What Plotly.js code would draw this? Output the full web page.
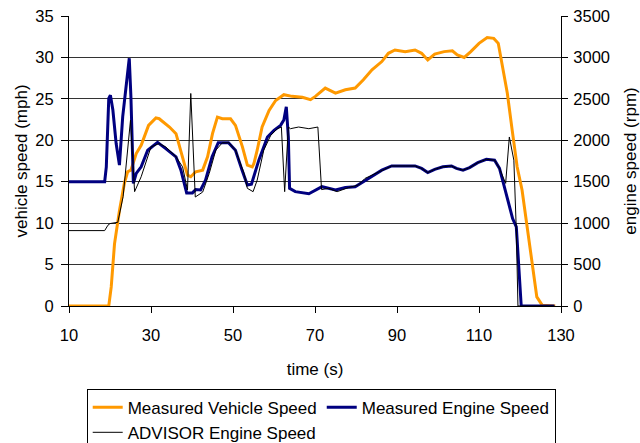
<!DOCTYPE html>
<html>
<head>
<meta charset="utf-8">
<script src="https://cdn.plot.ly/plotly-3.0.1.min.js"></script>
<style>
html,body{margin:0;padding:0;background:#fff;}
#chart{width:640px;height:443px;}
</style>
</head>
<body>
<div id="chart"></div>
<script>
// Measured vehicle speed (mph) vs time (s)
const vehTime = [10,19.7,20.3,21.1,22.3,23.5,24.3,25.1,26.4,27.6,29.4,31.2,32,34.5,36.1,37.7,38.9,39.7,40.9,42.6,43.8,45,46.2,47.4,49.4,50.6,52.3,53.5,54.7,55.1,55.9,57.1,58.8,60.4,62.4,64.4,66.9,68.9,70.1,72.5,75,77.4,79.8,81.8,83.9,86.3,87.9,89.5,92,94.4,96,97.5,99.2,101.5,103.5,104.7,106.4,108,110,112,113.6,114.7,115.6,116.9,118.1,119.3,120.5,121.7,122.9,124.1,125.4,128.6];
const vehSpeed = [0,0,2.3,7.5,11.5,14.8,16.2,16.4,18.4,19.4,21.8,22.7,22.6,21.6,20.8,18,15.8,15.6,16.2,16.4,18,20.8,22.8,22.6,22.6,21.8,19.2,17,16.8,17.2,18.8,21.6,23.6,24.8,25.5,25.3,25.2,24.9,25.3,26.3,25.7,26.1,26.3,27.3,28.5,29.5,30.5,30.9,30.7,30.9,30.5,29.7,30.4,30.7,30.8,30.3,30,30.7,31.7,32.4,32.3,31.7,29.3,25.7,21.2,16.8,14,9.5,5.1,1.1,0.1,0];

// Measured engine speed (rpm)
const engTime = [10,18.7,19.1,19.7,20.1,20.7,21.5,22.3,23.1,23.9,24.7,25.1,25.7,26.4,27.6,29.2,31.6,33.6,36.1,37.3,38.7,40.1,40.9,42.1,43.3,44.9,46.4,48.9,50.6,52.2,53.5,54.5,56.3,58.4,60,61.6,62.4,63,63.5,63.8,65.2,68.5,70.1,71.7,75,77.4,79.8,81.8,83.9,86.3,88.7,92,94.4,96,97.5,99.2,101.2,103.3,104.5,106.1,107.7,109.7,111.8,113.8,115,116.6,118.2,119.1,119.6,120.3,128.4];
const engSpeed = [1500,1500,1680,2505,2545,2365,1960,1700,2285,2645,2990,2525,1480,1600,1680,1880,1975,1900,1800,1640,1365,1365,1405,1400,1520,1800,1970,1970,1880,1640,1460,1470,1760,2040,2120,2180,2245,2405,2040,1420,1380,1355,1400,1440,1400,1430,1440,1500,1570,1640,1690,1690,1690,1660,1610,1650,1680,1690,1660,1640,1670,1730,1770,1760,1660,1360,1055,955,550,0,0];

// ADVISOR engine speed (rpm)
const advTime = [10,18.7,19.5,20,21.9,23.2,25.0,26,27.6,30,32,33.6,36.1,37.7,38.9,39.7,40.8,42.6,44.2,45.8,47.4,49,50.6,52.7,53.5,54.9,55.9,57.5,59.2,60.8,61.8,62.6,63.5,64,66,68.5,70.7,71.6,73.3,75.4,78.2,80.6,82.2,83.9,86.3,88.7,92,94.4,96,97.5,99.2,101.2,103.3,104.5,106.1,107.7,109.7,111.8,113.8,115,116.5,117.4,118.5,119.1,119.5,128.4];
const advSpeed = [910,910,975,995,1010,1320,2245,1380,1560,1920,1960,1920,1800,1680,1400,2565,1315,1375,1600,1880,1970,1970,1880,1600,1420,1380,1520,1880,2060,2140,2160,1380,2160,2140,2160,2140,2160,1405,1420,1380,1430,1460,1540,1580,1640,1690,1690,1690,1660,1610,1650,1680,1690,1660,1640,1670,1730,1770,1760,1660,1480,2040,1760,915,0,0];

const xTicks = [10,30,50,70,90,110,130];

const FONT = 'Liberation Sans, Arial, sans-serif';

const traces = [
  {x: vehTime, y: vehSpeed, type: 'scatter', mode: 'lines', name: 'Measured Vehicle Speed',
   line: {color: '#FF9900', width: 3}, yaxis: 'y'},
  {x: engTime, y: engSpeed, type: 'scatter', mode: 'lines', name: 'Measured Engine Speed',
   line: {color: '#000080', width: 3}, yaxis: 'y2'},
  {x: advTime, y: advSpeed, type: 'scatter', mode: 'lines', name: 'ADVISOR Engine Speed',
   line: {color: '#000000', width: 1}, yaxis: 'y2'}
];

const layout = {
  width: 640, height: 443,
  margin: {l: 69, r: 79, t: 16, b: 137, pad: 0, autoexpand: false},
  paper_bgcolor: '#ffffff', plot_bgcolor: '#ffffff',
  font: {family: FONT, size: 17, color: '#000'},
  showlegend: true,
  xaxis: {
    range: [10, 130], tickvals: xTicks, ticktext: xTicks.map(String),
    ticks: 'outside', ticklen: 6, tickcolor: '#000', tickwidth: 1,
    showline: true, linecolor: '#000', linewidth: 1,
    showgrid: false, zeroline: false, automargin: false,
    ticklabelstandoff: 8,
    tickfont: {family: FONT, size: 16.5, color: '#000'},
    title: {text: 'time (s)', font: {family: FONT, size: 17, color: '#000'}, standoff: 20}
  },
  yaxis: {
    range: [0, 35], dtick: 5, tick0: 0,
    ticks: 'outside', ticklen: 7, tickcolor: '#000', tickwidth: 1,
    showline: true, linecolor: '#000', linewidth: 1,
    showgrid: true, gridcolor: '#333', gridwidth: 1, zeroline: false, automargin: false,
    ticklabelstandoff: 4,
    tickfont: {family: FONT, size: 16.5, color: '#000'},
    title: {text: 'vehicle speed (mph)', font: {family: FONT, size: 17, color: '#000'}, standoff: 3}
  },
  yaxis2: {
    range: [0, 3500], dtick: 500, tick0: 0, overlaying: 'y', side: 'right',
    ticks: 'outside', ticklen: 6, tickcolor: '#000', tickwidth: 1,
    showline: true, linecolor: '#000', linewidth: 1,
    showgrid: false, zeroline: false, automargin: false,
    ticklabelstandoff: 2,
    tickfont: {family: FONT, size: 16.5, color: '#000'},
    title: {text: 'engine speed (rpm)', font: {family: FONT, size: 17, color: '#000'}, standoff: 20}
  },
  legend: {
    orientation: 'h', x: 0.036, xanchor: 'left', y: -0.285, yanchor: 'top',
    bordercolor: '#000', borderwidth: 1, bgcolor: '#fff',
    font: {family: FONT, size: 17, color: '#000'},
    itemwidth: 30, tracegroupgap: 0
  }
};

Plotly.newPlot('chart', traces, layout, {displayModeBar: false, staticPlot: true});
</script>
</body>
</html>
